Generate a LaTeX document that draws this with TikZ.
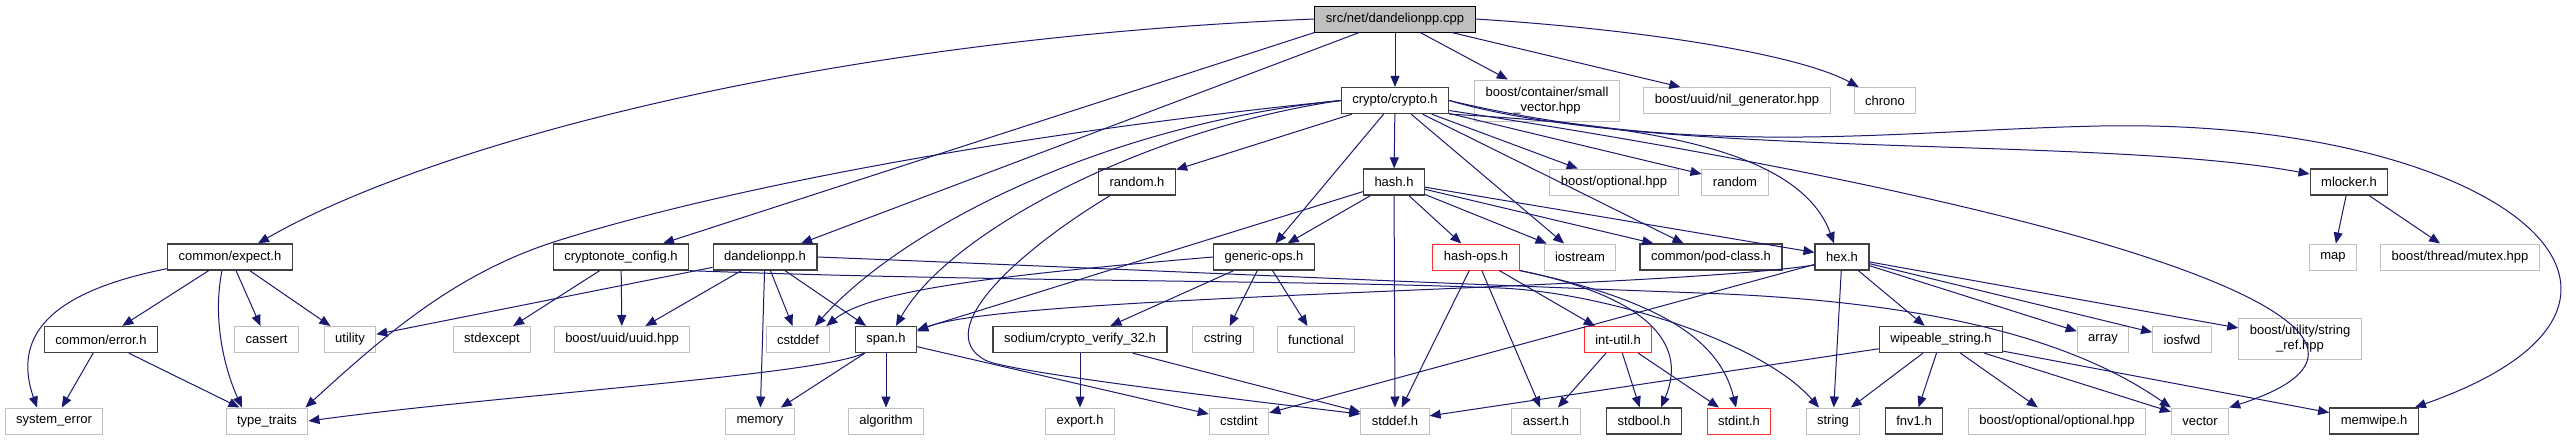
\documentclass[tikz,border=0pt]{standalone}
\usepackage{fontspec}
\setmainfont{Liberation Sans}
\usetikzlibrary{arrows.meta, calc}
\definecolor{colEdge}{HTML}{191970}
\definecolor{colDocbdr}{HTML}{404040}
\definecolor{colSysbdr}{HTML}{BFBFBF}
\definecolor{colTrbdr}{HTML}{FF3030}
\definecolor{colRootfill}{HTML}{BFBFBF}

\begin{document}
\begin{tikzpicture}[x=1pt, y=-1pt, font=\fontsize{13}{15}\selectfont,
	hdr/.style={draw, fill=white, line width=1pt, minimum height=26pt,
		inner xsep=11pt, inner ysep=2pt, align=center},
	doc/.style={hdr, draw=colDocbdr, line width=1.3pt},
	sys/.style={hdr, draw=colSysbdr},
	trunc/.style={hdr, draw=colTrbdr},
	rootbox/.style={hdr, draw=black, fill=colRootfill},
	inc/.style={draw=colEdge, line width=1pt, -{Triangle[length=11pt, width=9pt]}}]
		\fill[white] (0,0) rectangle (2567,440);
		\useasboundingbox (0,0) rectangle (2567,440);
		\node[rootbox] (root) at (1395,19) {src/net/dandelionpp.cpp};
		\node[doc] (crypto) at (1395,100.5) {crypto/crypto.h};
		\node[sys, minimum height=41pt] (smallvec) at (1547,100.5) {boost/container/small\\\_vector.hpp};
		\node[sys] (nilgen) at (1737,100.5) {boost/uuid/nil\_generator.hpp};
		\node[sys] (chrono) at (1885,100.5) {chrono};
		\node[doc] (randomh) at (1137,182) {random.h};
		\node[doc] (hashh) at (1394,182) {hash.h};
		\node[sys] (boostopt) at (1614,182) {boost/optional.hpp};
		\node[sys] (randomstd) at (1735,182) {random};
		\node[doc] (mlocker) at (2349,182) {mlocker.h};
		\node[doc] (expect) at (230,257) {common/expect.h};
		\node[doc] (cnconfig) at (621,257) {cryptonote\_config.h};
		\node[doc] (dandel) at (765,257) {dandelionpp.h};
		\node[doc] (generic) at (1264,257) {generic-ops.h};
		\node[trunc] (hashops) at (1476,257) {hash-ops.h};
		\node[sys] (iostream) at (1580,257) {iostream};
		\node[doc] (podclass) at (1711,257) {common/pod-class.h};
		\node[doc] (hexh) at (1842,257) {hex.h};
		\node[sys] (map) at (2333,257) {map};
		\node[sys] (mutex) at (2460,257) {boost/thread/mutex.hpp};
		\node[doc] (error) at (101,339.5) {common/error.h};
		\node[sys] (cassert) at (266.5,339.5) {cassert};
		\node[sys] (utility) at (350,339.5) {utility};
		\node[sys] (stdexcept) at (492,339.5) {stdexcept};
		\node[sys] (uuid) at (622,339.5) {boost/uuid/uuid.hpp};
		\node[sys] (cstddef) at (798,339.5) {cstddef};
		\node[doc] (span) at (886,339.5) {span.h};
		\node[doc] (sodium) at (1080,339.5) {sodium/crypto\_verify\_32.h};
		\node[sys] (cstring) at (1223,339.5) {cstring};
		\node[sys] (functional) at (1316,339.5) {functional};
		\node[trunc] (intutil) at (1618,339.5) {int-util.h};
		\node[doc] (wipeable) at (1941,339.5) {wipeable\_string.h};
		\node[sys] (array) at (2103,339.5) {array};
		\node[sys] (iosfwd) at (2182,339.5) {iosfwd};
		\node[sys, minimum height=41pt] (stringref) at (2300,339) {boost/utility/string\\\_ref.hpp};
		\node[sys] (syserr) at (54,421) {system\_error};
		\node[sys] (typetraits) at (267,421) {type\_traits};
		\node[sys] (memory) at (760,421) {memory};
		\node[sys] (algorithm) at (886,421) {algorithm};
		\node[sys] (exporth) at (1080,421) {export.h};
		\node[sys] (cstdint) at (1239,421) {cstdint};
		\node[sys] (stddefh) at (1395,421) {stddef.h};
		\node[sys] (asserth) at (1546,421) {assert.h};
		\node[doc] (stdbool) at (1644,421) {stdbool.h};
		\node[trunc] (stdint) at (1739,421) {stdint.h};
		\node[sys] (string) at (1833,421) {string};
		\node[doc] (fnv) at (1914,421) {fnv1.h};
		\node[sys] (optopt) at (2057,421) {boost/optional/optional.hpp};
		\node[sys] (vector) at (2200,421) {vector};
		\node[doc] (memwipe) at (2374,421) {memwipe.h};

		\draw[inc] (root.west) .. controls (800,40) and (420,150) .. ($(expect.north)+(28,0)$);
		\draw[inc] (root.south west) -- (cnconfig);
		\draw[inc] (root) -- (dandel);
		\draw[inc] (root) -- (crypto);
		\draw[inc] (root) -- (smallvec);
		\draw[inc] (root) -- (nilgen);
		\draw[inc] (root.east) .. controls (1650,30) and (1800,55) .. ($(chrono.north west)+(5,0)$);

		\draw[inc] (crypto) -- (randomh);
		\draw[inc] (crypto) -- (hashh);
		\draw[inc] (crypto) -- (generic);
		\draw[inc] (crypto) -- (iostream);
		\draw[inc] (crypto) -- (podclass);
		\draw[inc] (crypto) -- (boostopt);
		\draw[inc] (crypto) -- (randomstd);
		\draw[inc] (crypto.west) .. controls (1150,128) and (950,230) .. ($(span.north)+(10,0)$);
		\draw[inc] (crypto.west) .. controls (1100,125) and (900,230) .. ($(cstddef.north)+(17,0)$);
		\draw[inc] (crypto.west) .. controls (1000,135) and (720,190) .. (560,240)
			.. controls (460,271) and (390,330) .. ($(typetraits.north east)+(-3,0)$);
		\draw[inc] (crypto.south east) .. controls (1650,125) and (1800,150) .. ($(hexh.north)+(-8,0)$);
		\draw[inc] (crypto.east) .. controls (1650,160) and (2100,135) .. ($(mlocker.west)+(0,-8)$);
		\draw[inc] (crypto.east) .. controls (1700,160) and (1900,130) .. (2100,126)
			.. controls (2500,118) and (2720,300) .. ($(memwipe.north east)+(-4,0)$);
		\draw[inc] ($(crypto.east)+(0,10)$) .. controls (2100,210) and (2470,330) .. (vector.north east);

		\draw[inc] (hashh) -- (generic);
		\draw[inc] (hashh) -- (span);
		\draw[inc] (hashh) -- (hashops);
		\draw[inc] (hashh) -- (iostream);
		\draw[inc] (hashh) -- (podclass);
		\draw[inc] (hashh) -- (hexh);
		\draw[inc] (hashh) -- (stddefh);

		\draw[inc] ($(randomh.south)+(-27,0)$) .. controls (1020,250) and (930,330) .. (985,360)
			.. controls (1005,371) and (1200,395) .. ($(stddefh.west)+(0,-7)$);

		\draw[inc] (expect) -- (error);
		\draw[inc] (expect) -- (cassert);
		\draw[inc] (expect) -- (utility);
		\draw[inc] ($(expect.south)+(-8,0)$) .. controls (212,320) and (225,370) .. ($(typetraits.north)+(-25,0)$);
		\draw[inc] ($(expect.south west)+(0,-2)$) .. controls (60,290) and (10,330) .. ($(syserr.north)+(-17,0)$);
		\draw[inc] (error) -- (syserr);
		\draw[inc] (error) -- (typetraits);

		\draw[inc] (cnconfig) -- (stdexcept);
		\draw[inc] (cnconfig) -- (uuid);
		\draw[inc] (cnconfig.south east) .. controls (1000,282) and (1300,280) .. (1500,288)
			.. controls (1600,292) and (1760,340) .. ($(string.north)+(-14,0)$);

		\draw[inc] (dandel) -- (utility);
		\draw[inc] (dandel) -- (uuid);
		\draw[inc] (dandel) -- (memory);
		\draw[inc] (dandel) -- (cstddef);
		\draw[inc] (dandel) -- (span);
		\draw[inc] (dandel.east) .. controls (1100,268) and (1400,282) .. (1700,293)
			.. controls (1900,300) and (2060,330) .. (vector.north west);

		\draw[inc] (generic.west) .. controls (1000,275) and (870,290) .. ($(cstddef.north east)+(-4,0)$);
		\draw[inc] (generic) -- (sodium);
		\draw[inc] (generic) -- (cstring);
		\draw[inc] (generic) -- (functional);

		\draw[inc] (hashops) -- (stddefh);
		\draw[inc] (hashops) -- (asserth);
		\draw[inc] (hashops) -- (intutil);
		\draw[inc] (hashops.south east) .. controls (1640,295) and (1690,340) .. ($(stdbool.north)+(17,0)$);
		\draw[inc] (hashops.south east) .. controls (1660,300) and (1720,340) .. ($(stdint.north)+(-3,0)$);

		\draw[inc] (intutil) -- (asserth);
		\draw[inc] (intutil) -- (stdbool);
		\draw[inc] (intutil) -- (stdint);

		\draw[inc] (span) -- (memory);
		\draw[inc] (span) -- (algorithm);
		\draw[inc] (span) -- (cstdint);
		\draw[inc] ($(span.south west)+(9,0)$) .. controls (820,375) and (500,395) .. (typetraits.east);

		\draw[inc] (sodium) -- (exporth);
		\draw[inc] (sodium) -- (stddefh);

		\draw[inc] (hexh) -- (string);
		\draw[inc] (hexh) -- (wipeable);
		\draw[inc] (hexh) -- (array);
		\draw[inc] (hexh) -- (iosfwd);
		\draw[inc] (hexh) -- (stringref);
		\draw[inc] ($(hexh.west)+(0,8)$) .. controls (1650,290) and (1000,295) .. ($(span.east)+(0,-8)$);
		\draw[inc] (hexh) -- (cstdint);

		\draw[inc] (wipeable) -- (stddefh);
		\draw[inc] (wipeable) -- (string);
		\draw[inc] (wipeable) -- (fnv);
		\draw[inc] (wipeable) -- (optopt);
		\draw[inc] (wipeable) -- (vector);
		\draw[inc] (wipeable) -- (memwipe);

		\draw[inc] (mlocker) -- (map);
		\draw[inc] (mlocker) -- (mutex);
\end{tikzpicture}
\end{document}
